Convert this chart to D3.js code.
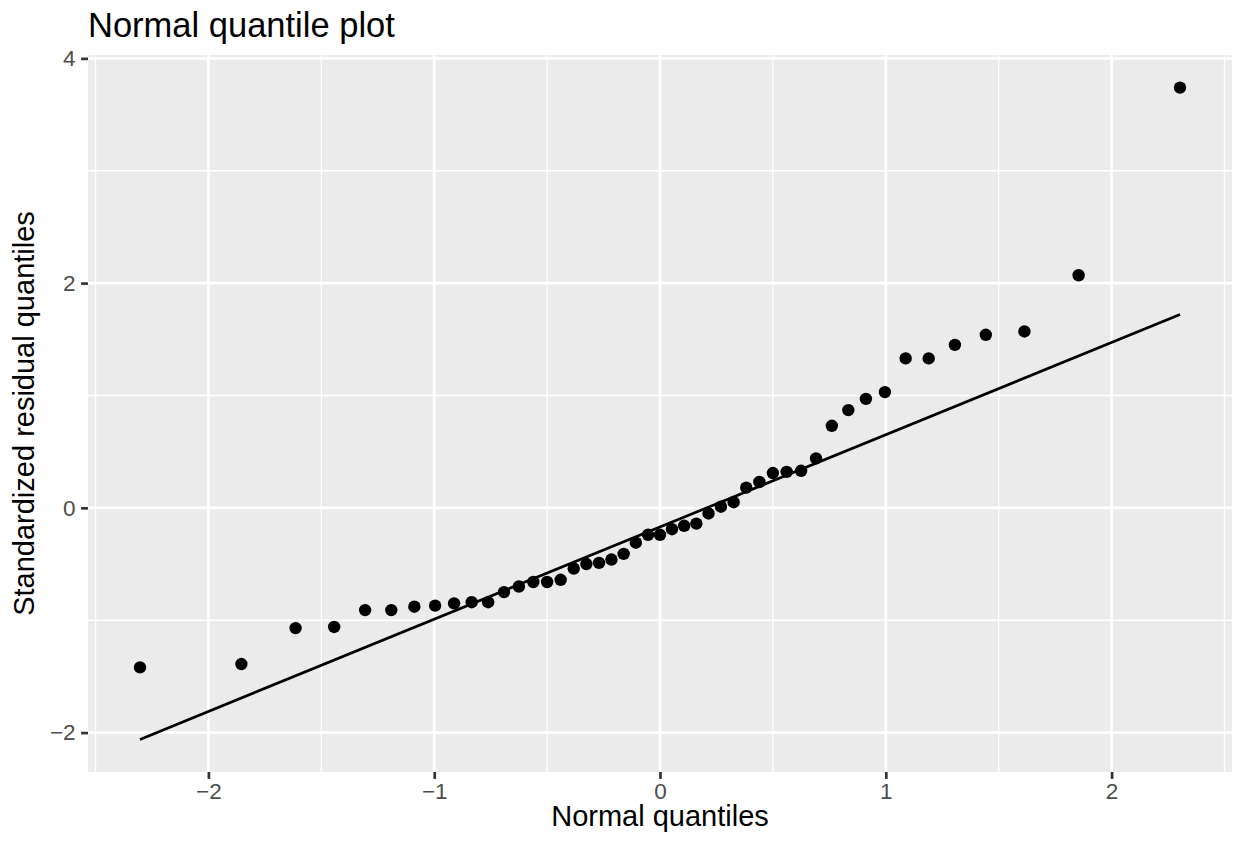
<!DOCTYPE html>
<html>
<head>
<meta charset="utf-8">
<script src="https://cdn.jsdelivr.net/npm/d3@7"></script>
<style>
  body { margin: 0; background: #fff; }
  svg { display: block; font-family: "Liberation Sans", Arial, sans-serif; }
</style>
</head>
<body>
<svg id="chart" width="1238" height="843"></svg>
<script>
// theoretical normal quantiles
const theoretical = [-2.303, -1.854, -1.614, -1.443, -1.306, -1.190, -1.088, -0.996, -0.912, -0.834,
  -0.761, -0.691, -0.625, -0.561, -0.500, -0.440, -0.382, -0.326, -0.270, -0.215,
  -0.161, -0.107, -0.053, 0, 0.053, 0.107, 0.161, 0.215, 0.270, 0.326,
  0.382, 0.440, 0.500, 0.561, 0.625, 0.691, 0.761, 0.834, 0.912, 0.996,
  1.088, 1.190, 1.306, 1.443, 1.614, 1.854, 2.303];
// standardized residual quantiles
const residuals = [-1.42, -1.39, -1.07, -1.06, -0.91, -0.91, -0.88, -0.87, -0.85, -0.84,
  -0.84, -0.75, -0.70, -0.66, -0.66, -0.64, -0.54, -0.50, -0.49, -0.46,
  -0.41, -0.31, -0.24, -0.24, -0.19, -0.16, -0.14, -0.05, 0.01, 0.05,
  0.18, 0.23, 0.31, 0.32, 0.33, 0.44, 0.73, 0.87, 0.97, 1.03,
  1.33, 1.33, 1.45, 1.54, 1.57, 2.07, 3.74];
// reference line through the quartiles
const lineSlope = 0.821;
const lineIntercept = -0.17;

const xTicks = [-2, -1, 0, 1, 2];
const yTicks = [-2, 0, 2, 4];

const titleText = "Normal quantile plot";
const xTitle = "Normal quantiles";
const yTitle = "Standardized residual quantiles";

const svg = d3.select("#chart");
const panel = { left: 88, right: 1232, top: 55, bottom: 772 };

const points = theoretical.map((t, i) => ({ x: t, y: residuals[i] }));
const xMin = d3.min(theoretical), xMax = d3.max(theoretical);
const lineEnds = [xMin, xMax].map(v => ({ x: v, y: lineIntercept + lineSlope * v }));

// ggplot style 5% expansion
function expand(ext) {
  const pad = (ext[1] - ext[0]) * 0.05;
  return [ext[0] - pad, ext[1] + pad];
}
const xDom = expand([xMin, xMax]);
const yDom = expand(d3.extent(residuals.concat(lineEnds.map(d => d.y))));

const x = d3.scaleLinear().domain(xDom).range([panel.left, panel.right]);
const y = d3.scaleLinear().domain(yDom).range([panel.bottom, panel.top]);

// panel background
svg.append("rect")
  .attr("x", panel.left).attr("y", panel.top)
  .attr("width", panel.right - panel.left)
  .attr("height", panel.bottom - panel.top)
  .attr("fill", "#EBEBEB");

// minor grid
const xMinor = d3.range(-2.5, 3, 1).filter(v => v > xDom[0] && v < xDom[1]);
const yMinor = d3.range(-3, 5, 2).filter(v => v > yDom[0] && v < yDom[1]);
const grid = svg.append("g");
grid.selectAll(".vminor").data(xMinor).enter().append("line")
  .attr("x1", d => x(d)).attr("x2", d => x(d))
  .attr("y1", panel.top).attr("y2", panel.bottom)
  .attr("stroke", "#fff").attr("stroke-width", 1.35);
grid.selectAll(".hminor").data(yMinor).enter().append("line")
  .attr("y1", d => y(d)).attr("y2", d => y(d))
  .attr("x1", panel.left).attr("x2", panel.right)
  .attr("stroke", "#fff").attr("stroke-width", 1.35);
// major grid
grid.selectAll(".vmajor").data(xTicks).enter().append("line")
  .attr("x1", d => x(d)).attr("x2", d => x(d))
  .attr("y1", panel.top).attr("y2", panel.bottom)
  .attr("stroke", "#fff").attr("stroke-width", 2.7);
grid.selectAll(".hmajor").data(yTicks).enter().append("line")
  .attr("y1", d => y(d)).attr("y2", d => y(d))
  .attr("x1", panel.left).attr("x2", panel.right)
  .attr("stroke", "#fff").attr("stroke-width", 2.7);

// points
svg.selectAll(".dot").data(points).enter().append("circle")
  .attr("class", "dot")
  .attr("cx", d => x(d.x))
  .attr("cy", d => y(d.y))
  .attr("r", 6.2)
  .attr("fill", "#000");

// qq line
svg.append("path")
  .datum(lineEnds)
  .attr("fill", "none")
  .attr("stroke", "#000")
  .attr("stroke-width", 2.7)
  .attr("d", d3.line().x(d => x(d.x)).y(d => y(d.y)));

// axes
const fmt = d => d < 0 ? "\u2212" + Math.abs(d) : String(d);
const xAxis = svg.append("g")
  .attr("transform", `translate(0,${panel.bottom})`)
  .call(d3.axisBottom(x).tickValues(xTicks).tickFormat(fmt).tickSizeInner(6.9).tickSizeOuter(0).tickPadding(4));
const yAxis = svg.append("g")
  .attr("transform", `translate(${panel.left},0)`)
  .call(d3.axisLeft(y).tickValues(yTicks).tickFormat(fmt).tickSizeInner(6.9).tickSizeOuter(0).tickPadding(5.5));
[xAxis, yAxis].forEach(a => {
  a.select(".domain").remove();
  a.selectAll(".tick line").attr("stroke", "#333333").attr("stroke-width", 2.7);
  a.selectAll(".tick text").attr("fill", "#4D4D4D").style("font-size", "22.5px")
    .style("font-family", "'Liberation Sans', Arial, sans-serif");
});

// titles
svg.append("text")
  .attr("x", panel.left).attr("y", 37)
  .style("font-size", "34.5px").attr("fill", "#000")
  .text(titleText);
svg.append("text")
  .attr("x", (panel.left + panel.right) / 2).attr("y", 826)
  .attr("text-anchor", "middle")
  .style("font-size", "29px").attr("fill", "#000")
  .text(xTitle);
svg.append("text")
  .attr("transform", `translate(34,${(panel.top + panel.bottom) / 2}) rotate(-90)`)
  .attr("text-anchor", "middle")
  .style("font-size", "29px").attr("fill", "#000")
  .text(yTitle);
</script>
</body>
</html>
